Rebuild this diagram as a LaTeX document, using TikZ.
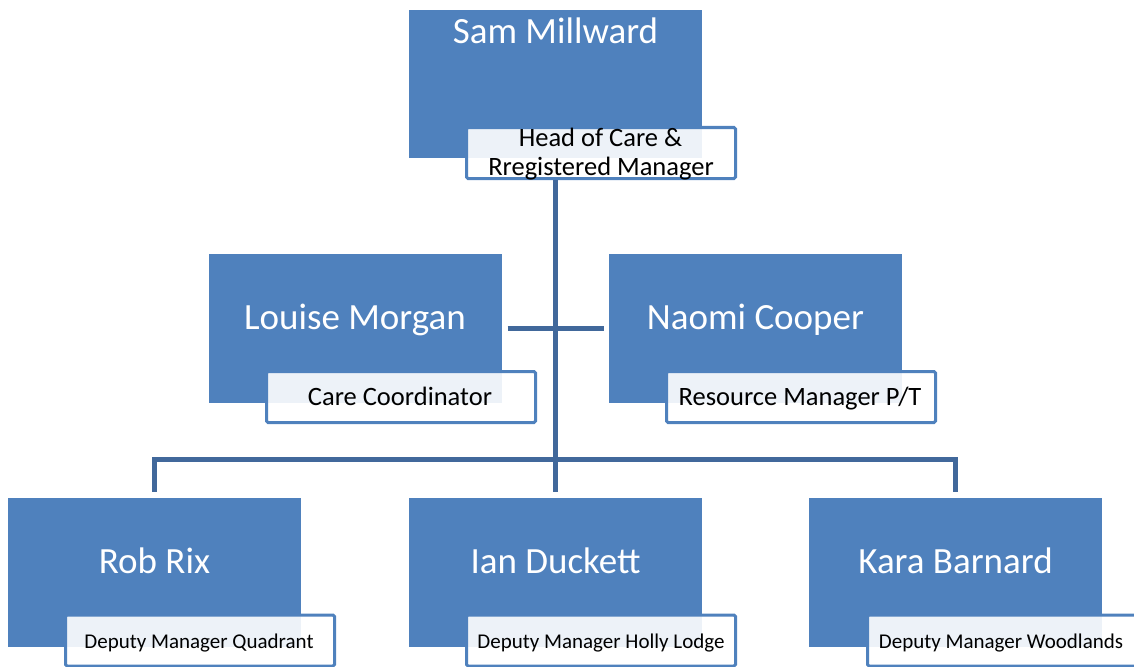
\documentclass[tikz,border=0pt]{standalone}
\usepackage{fontspec}
\setmainfont{Carlito}
\definecolor{boxblue}{RGB}{79,129,189}
\definecolor{linkblue}{RGB}{65,104,155}
\begin{document}
\begin{tikzpicture}[x=1pt,y=-1pt,
  person/.style={fill=boxblue, draw=none, minimum width=293pt, minimum height=149pt, inner sep=0pt},
  namelabel/.style={text=white, font=\fontsize{37}{40}\selectfont, anchor=base, inner sep=0pt},
  rolebox/.style={draw=boxblue, line width=3pt, fill=white, fill opacity=0.9,
    rounded corners=1.5pt, minimum width=269pt, minimum height=51pt, inner sep=0pt},
  roletext/.style={text=black, anchor=base, inner sep=0pt},
  rolebig/.style={roletext, font=\fontsize{26.5}{28}\selectfont},
  rolesmall/.style={roletext, font=\fontsize{21}{24}\selectfont},
  link/.style={draw=linkblue, line width=5pt, line join=miter}
]
\useasboundingbox (0,0) rectangle (1134,666);

\coordinate (bus) at (555.5,459);

% person boxes
\node[person, minimum height=148pt] (sam) at (555.5,84) {};
\node[person] (louise) at (355,328.5) {};
\node[person] (naomi) at (755.5,328.5) {};
\node[person] (rob) at (154.5,572.5) {};
\node[person] (ian) at (555.5,572.5) {};
\node[person] (kara) at (955.5,572.5) {};

\node[namelabel] (samname) at (555.5,44) {Sam Millward};
\node[namelabel] (louisename) at (355,329) {Louise Morgan};
\node[namelabel] (naominame) at (755.5,329) {Naomi Cooper};
\node[namelabel] (robname) at (154.5,573) {Rob Rix};
\node[namelabel] (ianname) at (555.5,573) {Ian Duckett};
\node[namelabel] (karaname) at (955.5,573) {Kara Barnard};

% role boxes
\node[rolebox] (samrole) at (601,153) {};
\node[rolebox] (louiserole) at (401,397) {};
\node[rolebox] (naomirole) at (801,397) {};
\node[rolebox] (robrole) at (200,640.5) {};
\node[rolebox] (ianrole) at (601,640.5) {};
\node[rolebox] (kararole) at (1002,640.5) {};

\node[rolebig] (samrole1) at (600.5,146.5) {Head of Care \&};
\node[rolebig] (samrole2) at (601,175) {Rregistered Manager};
\node[rolebig] (louiserolet) at (400,405) {Care Coordinator};
\node[rolebig] (naomirolet) at (800,405) {Resource Manager P/T};
\node[rolesmall] (robrolet) at (199,648) {Deputy Manager Quadrant};
\node[rolesmall] (ianrolet) at (601,648) {Deputy Manager Holly Lodge};
\node[rolesmall] (kararolet) at (1001,648) {Deputy Manager Woodlands};

\draw[link, shorten >=6pt] (samrole.south -| sam.south) -- (ian.north);
\draw[link, shorten <=6pt, shorten >=5pt] (louise.east) -- (naomi.west);
\draw[link, shorten <=6pt, shorten >=6pt] (rob.north) |- (bus) -| (kara.north);
\end{tikzpicture}
\end{document}
